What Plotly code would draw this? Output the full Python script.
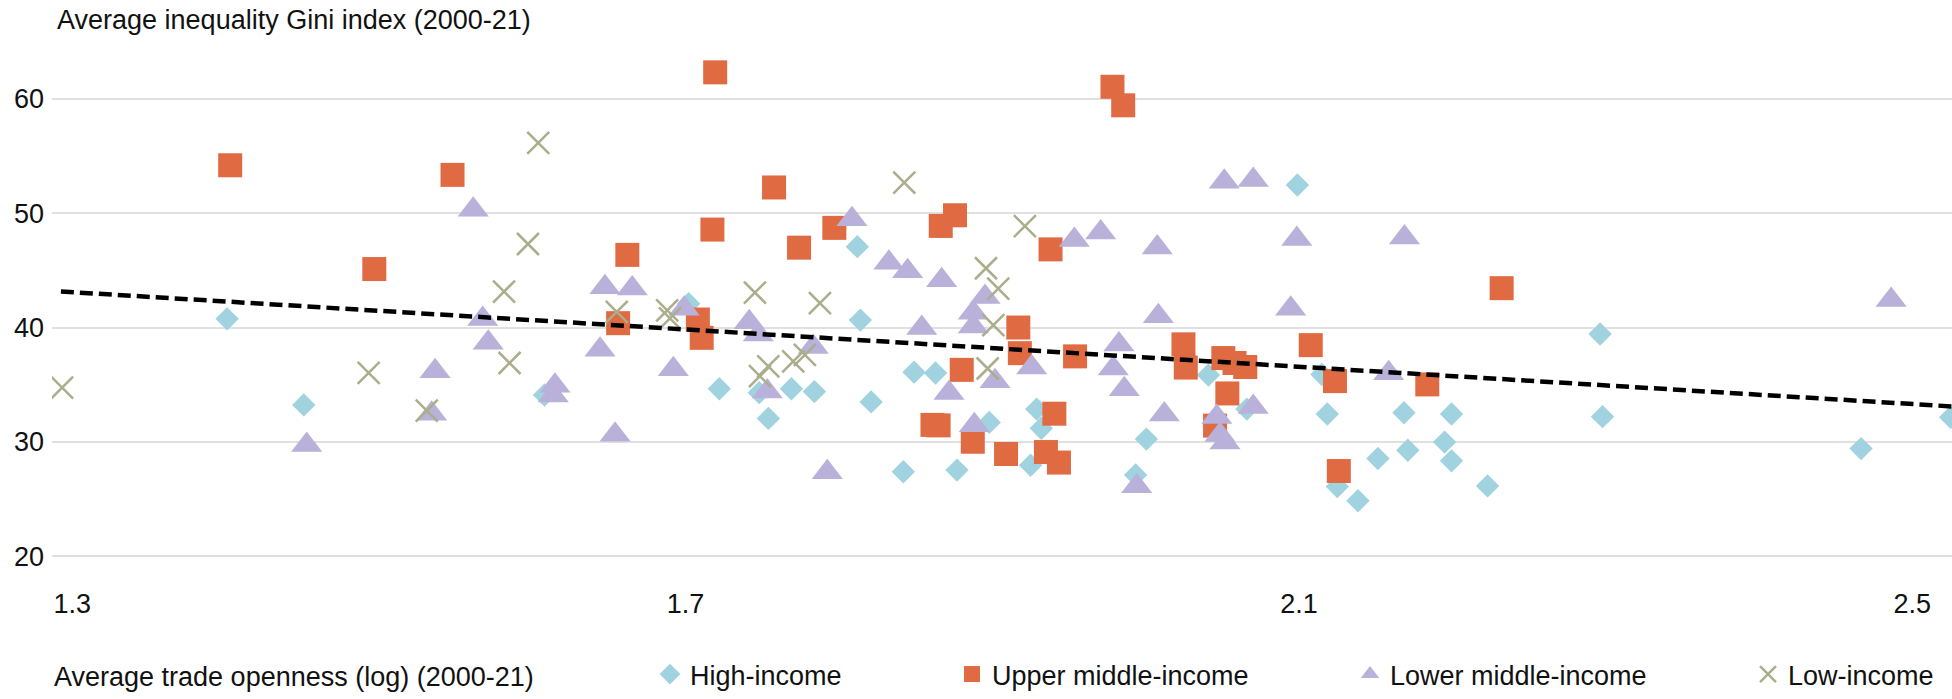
import plotly.graph_objects as go

# ---- data ----
high_x = [1.401, 1.451, 1.608, 1.702, 1.722, 1.748, 1.754, 1.769, 1.784, 1.812,
          1.814, 1.821, 1.842, 1.849, 1.863, 1.877, 1.898, 1.925, 1.929, 1.932,
          1.9935, 2.0005, 2.041, 2.066, 2.099, 2.115, 2.1185, 2.125, 2.1385, 2.1515,
          2.1685, 2.171, 2.195, 2.1995, 2.1995, 2.223, 2.2964, 2.298, 2.4666, 2.5250]
high_y = [40.76, 33.24, 34.10, 42.08, 34.65, 34.31, 32.06, 34.65, 34.40, 47.07,
          40.65, 33.50, 27.40, 36.10, 36.03, 27.54, 31.71, 27.97, 32.87, 31.20,
          27.11, 30.25, 35.85, 32.87, 52.45, 35.90, 32.44, 26.10, 24.86, 28.55,
          32.55, 29.27, 29.99, 32.44, 28.35, 26.16, 39.44, 32.21, 29.42, 32.15]

upper_x = [1.403, 1.497, 1.548, 1.662, 1.656, 1.708, 1.7105, 1.7175, 1.7193, 1.7577,
           1.774, 1.797, 1.8664, 1.8757, 1.8801, 1.861, 1.865, 1.8873, 1.909, 1.917,
           1.918, 1.938, 1.935, 1.9405, 1.9435, 1.954, 1.9784, 1.9854, 2.0247, 2.0262,
           2.0507, 2.058, 2.065, 2.0533, 2.0453, 2.1077, 2.1235, 2.126, 2.1837, 2.2322]
upper_y = [54.18, 45.11, 53.34, 46.35, 40.38, 40.70, 39.10, 48.56, 62.30, 52.24,
           46.98, 48.71, 48.88, 49.81, 36.30, 31.49, 31.45, 30.02, 28.95, 40.00,
           37.76, 46.83, 29.12, 32.47, 28.20, 37.48, 61.04, 59.42, 38.53, 36.50,
           37.33, 36.90, 36.55, 34.24, 31.43, 38.46, 35.32, 27.46, 35.03, 43.44]

lower_x = [1.4529, 1.5344, 1.5366, 1.5615, 1.5677, 1.5713, 1.6148, 1.6137, 1.6442, 1.6474,
           1.6652, 1.654, 1.692, 1.6991, 1.7415, 1.7474, 1.7533, 1.7833, 1.7924, 1.8085,
           1.8326, 1.8448, 1.867, 1.854, 1.8718, 1.8876, 1.8876, 1.8953, 1.8883, 1.9018,
           1.9257, 1.9535, 1.9707, 1.9826, 1.9789, 1.9861, 1.9942, 2.0076, 2.0083, 2.0122,
           2.0464, 2.0485, 2.0518, 2.0513, 2.0702, 2.0702, 2.0986, 2.0946, 2.1585, 2.1688,
           2.4862]
lower_y = [29.73, 32.47, 36.18, 50.30, 40.75, 38.66, 34.91, 34.05, 38.05, 43.52,
           43.40, 30.62, 36.35, 41.65, 40.46, 39.38, 34.40, 38.30, 27.35, 49.46,
           45.66, 44.92, 44.13, 39.96, 34.27, 41.30, 40.10, 42.66, 31.46, 35.30,
           36.50, 47.66, 48.30, 38.51, 36.42, 34.60, 26.13, 47.00, 40.99, 32.40,
           32.18, 30.60, 29.95, 52.74, 52.89, 33.05, 47.73, 41.65, 36.00, 47.87,
           42.40]

low_x = [1.2934, 1.4933, 1.5312, 1.5816, 1.5852, 1.5972, 1.6039, 1.6551, 1.688, 1.6898,
         1.7452, 1.7485, 1.7539, 1.7702, 1.7778, 1.7876, 1.8426, 1.8959, 1.9039, 1.9007,
         1.897, 1.9213]
low_y = [34.74, 36.03, 32.73, 43.14, 36.90, 47.30, 56.13, 41.37, 41.50, 40.79,
         43.06, 35.75, 36.61, 37.05, 37.62, 42.14, 52.67, 45.18, 43.41, 40.22,
         36.42, 48.86]

trend_x = [1.2926, 2.53]
trend_y = [43.15, 33.07]

x_ticks = [1.3, 1.7, 2.1, 2.5]
y_ticks = [20, 30, 40, 50, 60]

series_names = ["High-income", "Upper middle-income", "Lower middle-income", "Low-income"]

# ---- styling ----
FONT = "Liberation Sans, Arial, Helvetica, sans-serif"
FS = 27
TXT = "#111111"
C_HIGH = "#A0D3DF"
C_UPPER = "#E06A42"
C_LOWER = "#B9B1D9"
C_LOW = "#ABAD8B"

fig = go.Figure()
fig.add_trace(go.Scatter(
    x=high_x, y=high_y, mode="markers", name=series_names[0], legend="legend",
    marker=dict(symbol="diamond", size=18, color=C_HIGH, line=dict(width=0))))
fig.add_trace(go.Scatter(
    x=upper_x, y=upper_y, mode="markers", name=series_names[1], legend="legend2",
    marker=dict(symbol="square", size=24, color=C_UPPER, line=dict(width=0))))
fig.add_trace(go.Scatter(
    x=lower_x, y=lower_y, mode="markers", name=series_names[2], legend="legend3",
    marker=dict(symbol="triangle-up", size=27, color=C_LOWER, line=dict(width=0))))
fig.add_trace(go.Scatter(
    x=low_x, y=low_y, mode="markers", name=series_names[3], legend="legend4",
    marker=dict(symbol="x-thin-open", size=22, color=C_LOW,
                line=dict(width=2.5, color=C_LOW))))
fig.add_trace(go.Scatter(
    x=trend_x, y=trend_y, mode="lines", showlegend=False, hoverinfo="skip",
    line=dict(color="#000000", width=4.5, dash="13px,6px")))

PLOT_LEFT, PLOT_W = 52, 1900
PLOT_TOP, PLOT_H = 45, 546

def paper_x(px):
    return (px - PLOT_LEFT) / PLOT_W

leg_common = dict(orientation="h", xanchor="left", yanchor="middle",
                  y=-(682 - (PLOT_TOP + PLOT_H)) / PLOT_H,
                  font=dict(family=FONT, size=FS, color=TXT),
                  bgcolor="rgba(0,0,0,0)", itemwidth=30, borderwidth=0)

fig.update_layout(
    width=1952, height=699,
    margin=dict(l=PLOT_LEFT, r=0, t=PLOT_TOP, b=699 - PLOT_TOP - PLOT_H, pad=0),
    paper_bgcolor="white", plot_bgcolor="white",
    font=dict(family=FONT, size=FS, color=TXT),
    showlegend=True,
    legend=dict(x=paper_x(650), **leg_common),
    legend2=dict(x=paper_x(952), **leg_common),
    legend3=dict(x=paper_x(1350), **leg_common),
    legend4=dict(x=paper_x(1748), **leg_common),
    xaxis=dict(range=[1.2868, 2.5259], tickvals=x_ticks, tickformat=".1f",
               showgrid=False, zeroline=False, showline=False, ticks="",
               tickfont=dict(family=FONT, size=FS, color=TXT)),
    yaxis=dict(range=[17.5, 64.69], tickvals=y_ticks, showgrid=True,
               gridcolor="#E0E0E0", gridwidth=2, zeroline=False, showline=False,
               ticks="", ticklabelstandoff=7,
               tickfont=dict(family=FONT, size=FS, color=TXT)),
    annotations=[
        dict(text="Average inequality Gini index (2000-21)", xref="paper", yref="paper",
             x=paper_x(55), y=1, yshift=25, xanchor="left", yanchor="middle",
             showarrow=False, font=dict(family=FONT, size=FS, color=TXT)),
        dict(text="Average trade openness (log) (2000-21)", xref="paper", yref="paper",
             x=paper_x(52), y=0, yshift=-(683 - (PLOT_TOP + PLOT_H)), xanchor="left",
             yanchor="middle", showarrow=False, font=dict(family=FONT, size=FS, color=TXT)),
    ],
)

fig.write_html("out.html",
               config={"displayModeBar": False},
               post_script="document.body.style.margin='0';document.body.style.overflow='hidden';")
